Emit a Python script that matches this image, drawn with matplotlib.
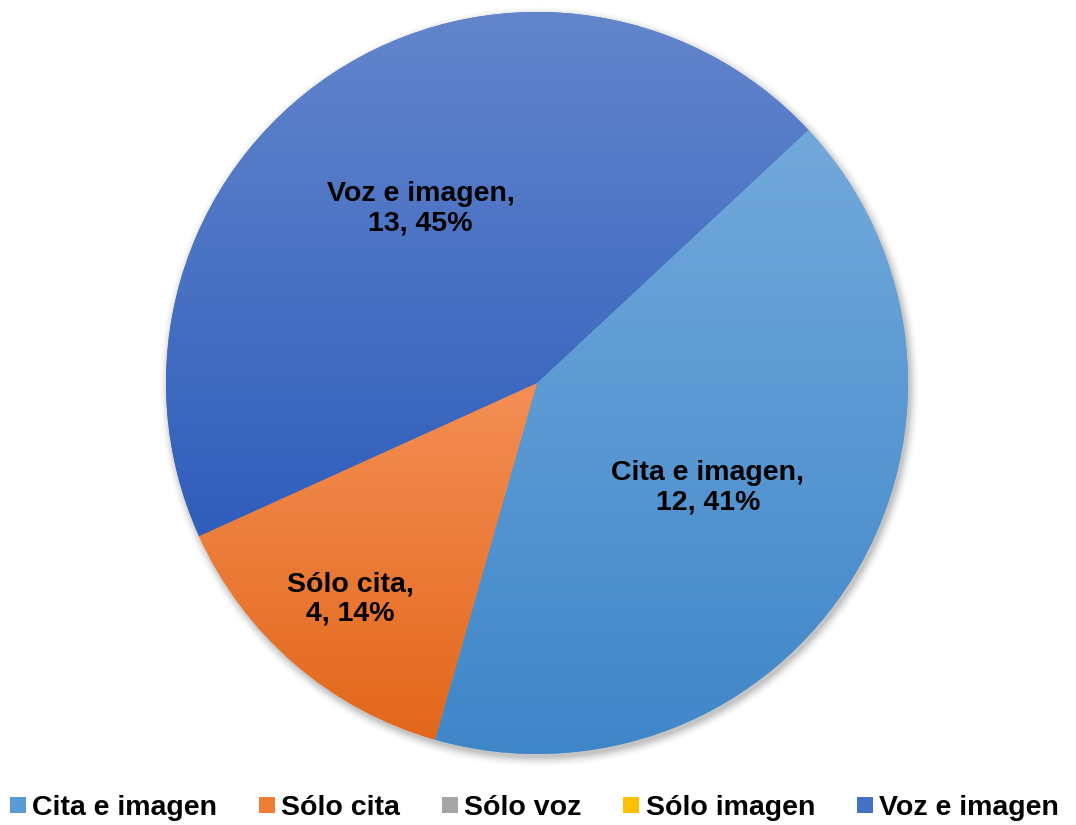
import numpy as np
import matplotlib
matplotlib.use("Agg")
import matplotlib.pyplot as plt
from matplotlib.colors import LinearSegmentedColormap
from matplotlib.lines import Line2D
from matplotlib.patches import Circle

categories = ["Cita e imagen", "Sólo cita", "Sólo voz", "Sólo imagen", "Voz e imagen"]
counts = [12, 4, 0, 0, 13]
colors = ["#5B9BD5", "#ED7D31", "#A5A5A5", "#FFC000", "#4472C4"]
# gradient ends (top, bottom) used to fill each slice
grad_top = ["#72A9DB", "#F48F55", "#B8B8B8", "#FFCC33", "#6385CC"]
grad_bot = ["#3F86C9", "#E3661A", "#959595", "#EDB000", "#2F5EBB"]
label_dist = [0.54, 0.77, 0.6, 0.6, 0.565]

plt.rcParams["font.family"] = ["Liberation Sans", "DejaVu Sans"]

W, H = 1076, 825
CX, CY, R = 537, 383, 371
M = 1.06  # axes half-width in radius units (room for the shadow)
fig = plt.figure(figsize=(W / 100, H / 100), dpi=100)
ax = fig.add_axes([(CX - R * M) / W, (H - CY - R * M) / H, 2 * R * M / W, 2 * R * M / H])
ax.axis("off")

# soft shadow
for i, a in enumerate(np.linspace(0.06, 0.01, 7)):
    ax.add_patch(Circle((0.006, -0.010), 1.0 + 0.004 * i, color="black",
                        alpha=a, lw=0, zorder=0))

total = sum(counts)
wedges, _ = ax.pie(counts, colors=colors, startangle=43, counterclock=False,
                   radius=1.0, wedgeprops=dict(linewidth=0))

grad = np.linspace(1, 0, 256).reshape(-1, 1)
for w, ct, cb, n in zip(wedges, grad_top, grad_bot, counts):
    if n == 0:
        continue
    w.set_zorder(1)
    ext = w.get_path().get_extents()
    cmap = LinearSegmentedColormap.from_list("g", [cb, ct])
    im = ax.imshow(grad, cmap=cmap, extent=[ext.x0, ext.x1, ext.y0, ext.y1],
                   aspect="auto", zorder=2, interpolation="bilinear")
    im.set_clip_path(w)

ax.set_xlim(-M, M)
ax.set_ylim(-M, M)
ax.set_aspect("equal")

for w, name, n, d in zip(wedges, categories, counts, label_dist):
    if n == 0:
        continue
    ang = np.deg2rad((w.theta1 + w.theta2) / 2)
    pct = round(100 * n / total)
    ax.text(d * np.cos(ang), d * np.sin(ang), f"{name},\n{n}, {pct}%",
            ha="center", va="center", fontsize=20.5, fontweight="bold",
            linespacing=1.15, zorder=5)

handles = [Line2D([0], [0], color="none", marker="s", markersize=11,
                  markerfacecolor=c, markeredgewidth=0, label=lab)
           for c, lab in zip(colors, categories)]
fig.legend(handles=handles, loc="center", bbox_to_anchor=(0.497, 1 - 808 / H),
           ncol=5, frameon=False, prop=dict(size=20.5, weight="bold"),
           handlelength=0.5, handletextpad=0.25, columnspacing=1.5,
           borderaxespad=0)

fig.savefig("out.png", dpi=100)
